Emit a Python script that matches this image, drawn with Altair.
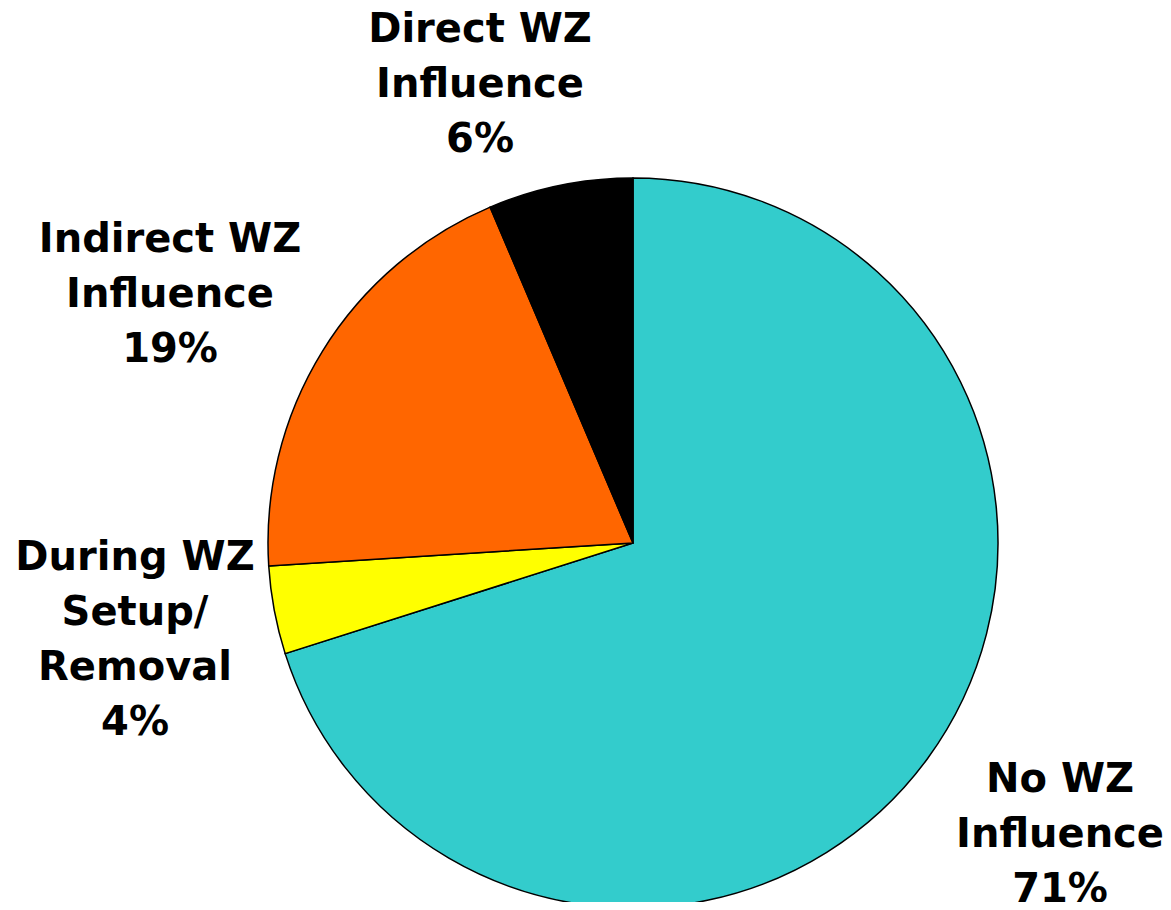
import altair as alt
import pandas as pd

categories = ["No WZ Influence", "During WZ Setup/Removal", "Indirect WZ Influence", "Direct WZ Influence"]
values = [70.1, 3.9, 19.6, 6.4]
colors = ["#33CCCC", "#FFFF00", "#FF6600", "#000000"]
labels = ["No WZ\nInfluence\n71%", "During WZ\nSetup/\nRemoval\n4%", "Indirect WZ\nInfluence\n19%", "Direct WZ\nInfluence\n6%"]

# label layout (pixel positions of first line within the chart)
label_x = [1052, 127, 162, 472]
label_y = [772, 550, 232, 22]

df = pd.DataFrame({
    "category": categories,
    "value": values,
    "order": list(range(len(categories))),
    "label": labels,
    "lx": label_x,
    "ly": label_y,
})

color_scale = alt.Scale(domain=categories, range=colors)

pie = alt.Chart(df).mark_arc(stroke="black", strokeWidth=1.5).encode(
    theta=alt.Theta("value:Q", stack=True),
    order=alt.Order("order:Q"),
    color=alt.Color("category:N", scale=color_scale, legend=None),
    x=alt.value(625),
    y=alt.value(535),
    radius=alt.value(365),
)

text = alt.Chart(df).mark_text(
    font="DejaVu Sans", fontWeight="bold", fontSize=40, lineBreak="\n",
    lineHeight=55, align="center", baseline="middle", color="black",
).encode(
    x=alt.X("lx:Q", scale=None),
    y=alt.Y("ly:Q", scale=None),
    text="label:N",
)

chart = alt.layer(pie, text).properties(
    width=1155, height=894,
    autosize=alt.AutoSizeParams(type="none"),
    padding=0,
).configure_view(stroke=None)

chart.save("out.html", embed_options={"renderer": "svg", "actions": False})
